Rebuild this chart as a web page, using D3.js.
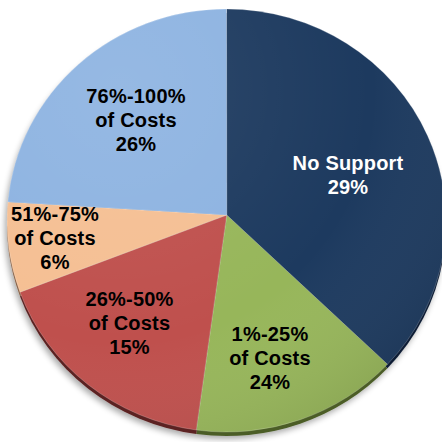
<!DOCTYPE html>
<html>
<head>
<meta charset="utf-8">
<script src="https://cdn.jsdelivr.net/npm/d3@7"></script>
<style>
  html, body { margin: 0; padding: 0; background: #fff; }
  svg { display: block; }
</style>
</head>
<body>
<svg width="442" height="442"></svg>
<script>
// slice names, clockwise from 12 o'clock
var categories = ["No Support", "1%-25% of Costs", "26%-50% of Costs", "51%-75% of Costs", "76%-100% of Costs"];
// printed percentages
var pctLabels = ["29%", "24%", "15%", "6%", "26%"];
var shares = [36.9, 15.3, 17.3, 6.9, 23.6];
var colors = ["#1d3a5f", "#97b65a", "#bf504d", "#f5bf93", "#8db3e1"];
var sideColors = ["#0e1f36", "#4c5d28", "#5c2221", "#8a6448", "#4a6a94"];
var textColors = ["#fff", "#000", "#000", "#000", "#000"];

var svg = d3.select("svg"),
    width = +svg.attr("width"),
    height = +svg.attr("height");

// ellipse of the pie face and the apex where the slices meet
var cx = 226.5, cy = 220.5, rx = 219.5, ry = 211.5,
    ax = 226.7, ay = 215,
    depth = 4;

var pie = d3.pie().sort(null).value(function(d) { return d; });
var arcs = pie(shares);

function pt(t, dy) {
  return [cx + rx * Math.sin(t), cy - ry * Math.cos(t) + (dy || 0)];
}

function slicePath(d, dy) {
  dy = dy || 0;
  var p0 = pt(d.startAngle, dy), p1 = pt(d.endAngle, dy);
  var large = (d.endAngle - d.startAngle) > Math.PI ? 1 : 0;
  return "M" + ax + "," + (ay + dy) +
         "L" + p0[0] + "," + p0[1] +
         "A" + rx + "," + ry + " 0 " + large + " 1 " + p1[0] + "," + p1[1] + "Z";
}

var defs = svg.append("defs");
var shadow = defs.append("filter").attr("id", "shadow")
    .attr("x", "-10%").attr("y", "-10%").attr("width", "120%").attr("height", "120%");
shadow.append("feGaussianBlur").attr("in", "SourceAlpha").attr("stdDeviation", 3);
shadow.append("feOffset").attr("dx", -2).attr("dy", 3).attr("result", "blur");
shadow.append("feComponentTransfer").append("feFuncA").attr("type", "linear").attr("slope", 0.35);
var merge = shadow.append("feMerge");
merge.append("feMergeNode");
merge.append("feMergeNode").attr("in", "SourceGraphic");

// soft light from the upper left
var shade = defs.append("radialGradient").attr("id", "shade")
    .attr("gradientUnits", "userSpaceOnUse")
    .attr("cx", 120).attr("cy", 90).attr("r", 420);
shade.append("stop").attr("offset", "0%").attr("stop-color", "#fff").attr("stop-opacity", 0.08);
shade.append("stop").attr("offset", "60%").attr("stop-color", "#fff").attr("stop-opacity", 0);
shade.append("stop").attr("offset", "100%").attr("stop-color", "#000").attr("stop-opacity", 0.12);

// side of the disc
svg.append("g").attr("filter", "url(#shadow)")
  .selectAll("path")
  .data(arcs)
  .enter().append("path")
    .attr("d", function(d) { return slicePath(d, depth); })
    .attr("fill", function(d, i) { return sideColors[i]; });

// face
var face = svg.append("g");
face.selectAll("path")
  .data(arcs)
  .enter().append("path")
    .attr("d", function(d) { return slicePath(d); })
    .attr("fill", function(d, i) { return colors[i]; })
    .attr("stroke", "rgba(255,255,255,0.35)")
    .attr("stroke-width", 0.6);

face.append("path")
    .attr("d", slicePath({startAngle: 0, endAngle: 2 * Math.PI - 1e-6}))
    .attr("fill", "url(#shade)")
    .attr("pointer-events", "none");

// label layout: center x and first baseline of each block
var labelPos = [[348, 170], [270, 341], [129.5, 306], [55, 221], [136, 103]];
var lineGap = 24;

var labels = svg.append("g")
    .attr("font-family", "'Liberation Sans', Arial, sans-serif")
    .attr("font-weight", "bold")
    .attr("font-size", "20px")
    .attr("letter-spacing", "0.2px")
    .attr("text-anchor", "middle");

labels.selectAll("text")
  .data(arcs)
  .enter().append("text")
    .attr("fill", function(d, i) { return textColors[i]; })
  .selectAll("tspan")
    .data(function(d, i) {
      var name = categories[i];
      var lines = name === "No Support" ? [name] : [name.replace(" of Costs", ""), "of Costs"];
      lines.push(pctLabels[i]);
      return lines.map(function(t, j) { return {text: t, x: labelPos[i][0], y: labelPos[i][1] + j * lineGap}; });
    })
  .enter().append("tspan")
    .attr("x", function(d) { return d.x; })
    .attr("y", function(d) { return d.y; })
    .text(function(d) { return d.text; });
</script>
</body>
</html>
